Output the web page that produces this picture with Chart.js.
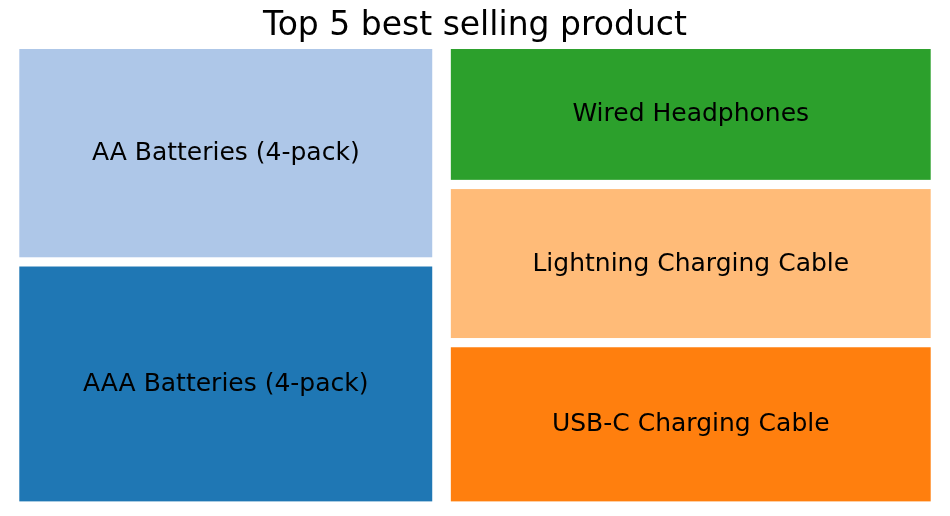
<!DOCTYPE html>
<html>
<head>
<meta charset="utf-8">
<script src="https://cdn.jsdelivr.net/npm/chart.js@4"></script>
<style>
html,body{margin:0;padding:0;background:#fff;}
#wrap{width:950px;height:516px;}
</style>
</head>
<body>
<div id="wrap"><canvas id="c" width="950" height="516"></canvas></div>
<script>
const products = ["AAA Batteries (4-pack)", "AA Batteries (4-pack)", "USB-C Charging Cable", "Lightning Charging Cable", "Wired Headphones"];
const quantities = [31017, 27635, 23975, 23217, 20557];
const colors = ["#1f77b4", "#aec7e8", "#ff7f0e", "#ffbb78", "#2ca02c"];
const titleText = "Top 5 best selling product";

// squarify (Laserson) layout in data units 0..100
function layoutrow(s, x, y, dx, dy) { const a = s.reduce((p, c) => p + c, 0); const w = a / dy; const r = []; for (const v of s) { r.push({x, y, dx: w, dy: v / w}); y += v / w; } return r; }
function layoutcol(s, x, y, dx, dy) { const a = s.reduce((p, c) => p + c, 0); const h = a / dx; const r = []; for (const v of s) { r.push({x, y, dx: v / h, dy: h}); x += v / h; } return r; }
function layout(s, x, y, dx, dy) { return dx >= dy ? layoutrow(s, x, y, dx, dy) : layoutcol(s, x, y, dx, dy); }
function leftover(s, x, y, dx, dy) { const a = s.reduce((p, c) => p + c, 0); if (dx >= dy) { const w = a / dy; return [x + w, y, dx - w, dy]; } const h = a / dx; return [x, y + h, dx, dy - h]; }
function worst(s, x, y, dx, dy) { return Math.max(...layout(s, x, y, dx, dy).map(r => Math.max(r.dx / r.dy, r.dy / r.dx))); }
function squarify(s, x, y, dx, dy) {
  if (s.length === 0) return [];
  if (s.length === 1) return layout(s, x, y, dx, dy);
  let i = 1;
  while (i < s.length && worst(s.slice(0, i), x, y, dx, dy) >= worst(s.slice(0, i + 1), x, y, dx, dy)) i++;
  const cur = s.slice(0, i), rem = s.slice(i);
  const [lx, ly, ldx, ldy] = leftover(cur, x, y, dx, dy);
  return layout(cur, x, y, dx, dy).concat(squarify(rem, lx, ly, ldx, ldy));
}
const W = 100, H = 100;
const total = quantities.reduce((a, b) => a + b, 0);
const norm = quantities.map(v => v * W * H / total);
const rects = squarify(norm, 0, 0, W, H).map(r => ({x: r.x + 1, y: r.y + 1, dx: r.dx - 2, dy: r.dy - 2}));

const FONT = '"DejaVu Sans"';
const treemapPlugin = {
  id: 'treemapRects',
  afterDatasetsDraw(chart) {
    const ctx = chart.ctx, xs = chart.scales.x, ys = chart.scales.y;
    ctx.save();
    rects.forEach((r, i) => {
      const x0 = xs.getPixelForValue(r.x), x1 = xs.getPixelForValue(r.x + r.dx);
      const y0 = ys.getPixelForValue(r.y + r.dy), y1 = ys.getPixelForValue(r.y);
      ctx.fillStyle = colors[i];
      ctx.fillRect(x0, y0, x1 - x0, y1 - y0);
      ctx.fillStyle = '#000';
      ctx.font = '25px ' + FONT;
      ctx.textAlign = 'center';
      ctx.textBaseline = 'middle';
      ctx.fillText(products[i], (x0 + x1) / 2, (y0 + y1) / 2 + 0.5);
    });
    ctx.restore();
  }
};

function build() {
  new Chart(document.getElementById('c'), {
    type: 'scatter',
    data: { datasets: [{ data: [], pointRadius: 0 }] },
    options: {
      responsive: false,
      animation: false,
      events: [],
      layout: { padding: { left: 10, right: 10, top: 0, bottom: 10 } },
      scales: {
        x: { type: 'linear', min: 0, max: W, display: false },
        y: { type: 'linear', min: 0, max: H, display: false }
      },
      plugins: {
        legend: { display: false },
        tooltip: { enabled: false },
        title: { display: true, text: titleText, color: '#000', font: { family: FONT, size: 33, weight: 'normal', lineHeight: 1.0 }, padding: { top: 10, bottom: 1.4 } }
      }
    },
    plugins: [treemapPlugin]
  });
}
Promise.all([document.fonts.load('33px ' + FONT), document.fonts.load('25px ' + FONT)]).then(build, build);
</script>
</body>
</html>
